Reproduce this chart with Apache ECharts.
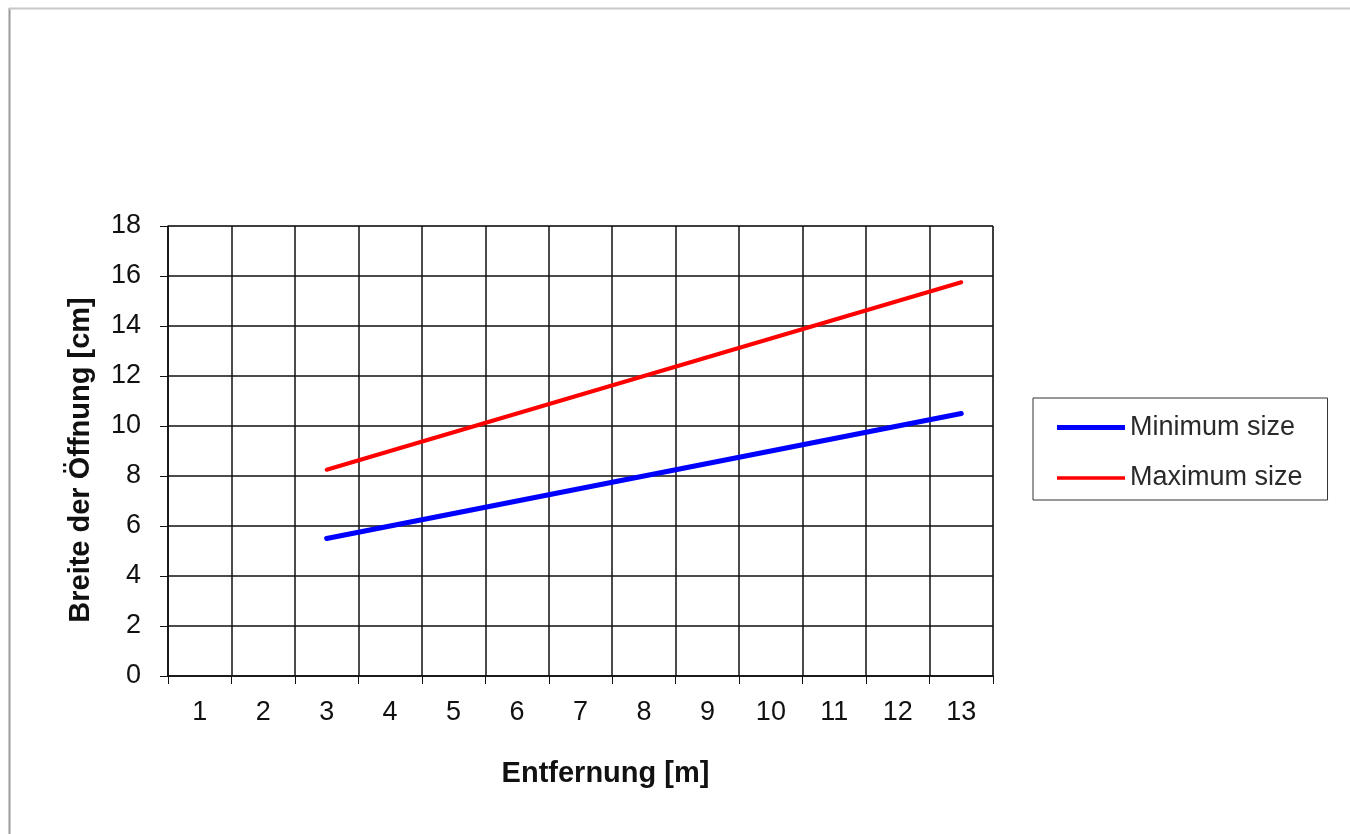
<!DOCTYPE html>
<html>
<head>
<meta charset="utf-8">
<script src="https://cdn.jsdelivr.net/npm/echarts@6/dist/echarts.min.js"></script>
<style>
html,body{margin:0;padding:0;background:#fff;}
#chart{width:1350px;height:834px;}
</style>
</head>
<body>
<div id="chart"></div>
<script>
const categories = ['1','2','3','4','5','6','7','8','9','10','11','12','13'];
const minimumSize = [null, null, 5.5, 6.0, 6.5, 7.0, 7.5, 8.0, 8.5, 9.0, 9.5, 10.0, 10.5];
const maximumSize = [null, null, 8.25, 9.0, 9.75, 10.5, 11.25, 12.0, 12.75, 13.5, 14.25, 15.0, 15.75];
const yTicks = { min: 0, max: 18, interval: 2 };
const xTitle = 'Entfernung [m]';
const yTitle = 'Breite der Öffnung [cm]';
const seriesNames = ['Minimum size', 'Maximum size'];

const FONT = '"Liberation Sans", Arial, sans-serif';
const chart = echarts.init(document.getElementById('chart'), null, {renderer: 'canvas'});
chart.setOption({
  backgroundColor: '#fff',
  animation: false,
  textStyle: { fontFamily: FONT },
  graphic: [
    { type: 'line', shape: { x1: 9.5, y1: 8, x2: 9.5, y2: 834 }, style: { stroke: '#9a9a9a', lineWidth: 2 } },
    { type: 'line', shape: { x1: 9, y1: 8.5, x2: 1350, y2: 8.5 }, style: { stroke: '#c8c8c8', lineWidth: 2 } }
  ],
  grid: { left: 168, top: 226, right: 357, bottom: 158, show: true, borderColor: '#8a8a8a', borderWidth: 1, backgroundColor: 'transparent' },
  legend: {
    orient: 'vertical',
    left: 1033, top: 398,
    padding: [16, 25, 9, 24],
    itemGap: 23,
    itemWidth: 68, itemHeight: 5,
    itemTextGap: 3,
    borderColor: '#333', borderWidth: 1,
    itemStyle: { borderWidth: 0 },
    textStyle: { fontSize: 27, color: '#2a2a2a', fontFamily: FONT },
    data: [
      { name: seriesNames[0], icon: 'path://M0,0H68V5H0Z' },
      { name: seriesNames[1], icon: 'path://M0,0L0.01,0M0,1H68V4.5H0Z' }
    ]
  },
  xAxis: {
    type: 'category',
    data: categories,
    boundaryGap: true,
    name: xTitle,
    nameLocation: 'middle',
    nameGap: 83,
    nameTextStyle: { fontSize: 29, fontWeight: 'bold', color: '#111', padding: [0, 0, 0, 50] },
    axisLine: { lineStyle: { color: '#111', width: 1.5 } },
    axisTick: { show: true, length: 8, interval: 0, lineStyle: { color: '#111' } },
    axisLabel: { fontSize: 27, color: '#111', margin: 23, interval: 0 },
    splitLine: { show: true, interval: 0, lineStyle: { color: '#111', width: 1.5 } }
  },
  yAxis: {
    type: 'value',
    min: yTicks.min, max: yTicks.max, interval: yTicks.interval,
    name: yTitle,
    nameLocation: 'middle',
    nameRotate: 90,
    nameGap: 73,
    nameTextStyle: { fontSize: 29, fontWeight: 'bold', color: '#111', padding: [0, 18, 0, 0] },
    axisLine: { show: true, lineStyle: { color: '#111', width: 1.5 } },
    axisTick: { show: true, length: 8, lineStyle: { color: '#111' } },
    axisLabel: { fontSize: 27, color: '#111', margin: 27 },
    splitLine: { show: true, lineStyle: { color: '#111', width: 1.5 } }
  },
  series: [
    { name: seriesNames[0], type: 'line', data: minimumSize, showSymbol: false, symbol: 'none', color: '#0000ff', lineStyle: { color: '#0000ff', width: 5, cap: 'round' } },
    { name: seriesNames[1], type: 'line', data: maximumSize, showSymbol: false, symbol: 'none', color: '#ff0000', lineStyle: { color: '#ff0000', width: 4, cap: 'round' } }
  ]
});
</script>
</body>
</html>
